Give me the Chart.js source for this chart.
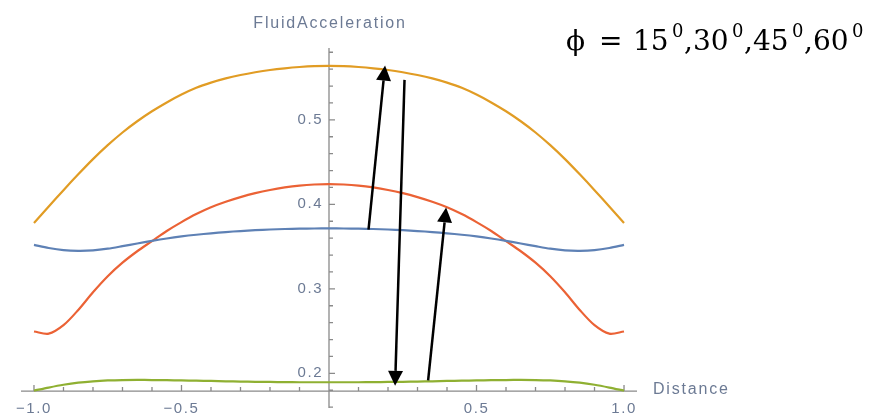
<!DOCTYPE html>
<html>
<head>
<meta charset="utf-8">
<script src="https://cdn.jsdelivr.net/npm/chart.js@4.4.1/dist/chart.umd.min.js"></script>
<style>
  html, body { margin: 0; padding: 0; background: #fff; }
</style>
</head>
<body>
<canvas id="chart" width="870" height="415"></canvas>
<script>
// distance values (x), step 0.05
const distance = [-1, -0.95, -0.9, -0.85, -0.8, -0.75, -0.7, -0.65, -0.6, -0.55, -0.5,
                  -0.45, -0.4, -0.35, -0.3, -0.25, -0.2, -0.15, -0.1, -0.05, 0,
                  0.05, 0.1, 0.15, 0.2, 0.25, 0.3, 0.35, 0.4, 0.45, 0.5,
                  0.55, 0.6, 0.65, 0.7, 0.75, 0.8, 0.85, 0.9, 0.95, 1];

// fluid acceleration, one array per curve
const accOrange = [0.378, 0.3975, 0.4168, 0.4355, 0.4535, 0.4700, 0.4850, 0.4983, 0.5101, 0.5206, 0.5299,
                   0.5379, 0.5440, 0.5490, 0.5530, 0.5563, 0.5590, 0.5610, 0.5625, 0.5635, 0.5638,
                   0.5635, 0.5625, 0.5610, 0.5590, 0.5563, 0.5530, 0.5490, 0.5440, 0.5379, 0.5299,
                   0.5206, 0.5101, 0.4983, 0.4850, 0.4700, 0.4535, 0.4355, 0.4168, 0.3975, 0.378];
const accRed    = [0.2495, 0.2470, 0.2570, 0.2750, 0.2960, 0.3150, 0.3310, 0.3445, 0.3565, 0.3685, 0.3790,
                   0.3885, 0.3965, 0.4030, 0.4085, 0.4132, 0.4170, 0.4200, 0.4222, 0.4235, 0.4240,
                   0.4235, 0.4222, 0.4200, 0.4170, 0.4132, 0.4085, 0.4030, 0.3965, 0.3885, 0.3790,
                   0.3685, 0.3565, 0.3445, 0.3310, 0.3150, 0.2960, 0.2750, 0.2570, 0.2470, 0.2495];
const accBlue   = [0.3520, 0.3483, 0.3458, 0.3450, 0.3455, 0.3475, 0.3505, 0.3537, 0.3568, 0.3596, 0.3620,
                   0.3640, 0.3657, 0.3672, 0.3684, 0.3694, 0.3702, 0.3708, 0.3712, 0.3714, 0.3715,
                   0.3714, 0.3712, 0.3708, 0.3702, 0.3694, 0.3684, 0.3672, 0.3657, 0.3640, 0.3620,
                   0.3596, 0.3568, 0.3537, 0.3505, 0.3475, 0.3455, 0.3450, 0.3458, 0.3483, 0.3520];
const accGreen  = [0.1795, 0.1832, 0.1865, 0.1890, 0.1906, 0.1916, 0.1921, 0.1922, 0.1921, 0.1919, 0.1916,
                   0.1913, 0.1910, 0.1906, 0.1903, 0.1900, 0.1898, 0.1896, 0.1895, 0.1895, 0.1895,
                   0.1895, 0.1895, 0.1896, 0.1898, 0.1900, 0.1903, 0.1906, 0.1910, 0.1913, 0.1916,
                   0.1919, 0.1921, 0.1922, 0.1921, 0.1916, 0.1906, 0.1890, 0.1865, 0.1832, 0.1795];

// tick labels
const xTickValues = [-1, -0.5, 0.5, 1];
const yTickValues = [0.2, 0.3, 0.4, 0.5];

// arrows in data units: [x0, y0, x1, y1], head at (x1, y1)
const arrowsData = [
  [0.134, 0.370, 0.190, 0.5643],
  [0.256, 0.5473, 0.224, 0.1852],
  [0.336, 0.1917, 0.397, 0.3964]
];

const X_AXIS_AT = 0.179;
const labelColor = "#6c7a94";
const axisColor = "#8a8a8a";
const sansFont = "'Liberation Sans', Arial, sans-serif";

function toPoints(ys) {
  return distance.map((x, i) => ({ x: x, y: ys[i] }));
}

function fmt(v) {
  return v.toFixed(1).replace("-", "\u2212");
}

// keep the axes from eating layout space
function noPad(s) {
  s.paddingTop = 0; s.paddingBottom = 0; s.paddingLeft = 0; s.paddingRight = 0;
}

// axes lines + inward ticks, Mathematica style
const axesPlugin = {
  id: "axesPlugin",
  beforeDraw(chart) {
    chart.ctx.letterSpacing = "1.6px";
  },
  beforeDatasetsDraw(chart) {
    const { ctx, chartArea } = chart;
    const xs = chart.scales.x, ys = chart.scales.y;
    const y0 = ys.getPixelForValue(X_AXIS_AT);
    const x0 = xs.getPixelForValue(0);
    ctx.save();
    ctx.strokeStyle = axisColor;
    ctx.lineWidth = 1.3;
    ctx.beginPath();
    ctx.moveTo(chartArea.left, y0);
    ctx.lineTo(chartArea.right, y0);
    ctx.moveTo(x0, chartArea.top);
    ctx.lineTo(x0, chartArea.bottom);
    // x ticks every 0.1
    for (let i = -10; i <= 10; i++) {
      const px = xs.getPixelForValue(i / 10);
      const len = i % 5 === 0 ? 6 : 4;
      ctx.moveTo(px, y0);
      ctx.lineTo(px, y0 - len);
    }
    // y ticks every 0.02
    for (let i = 8; i <= 29; i++) {
      const py = ys.getPixelForValue(i / 50);
      const len = i % 5 === 0 ? 6 : 4;
      ctx.moveTo(x0, py);
      ctx.lineTo(x0 + len, py);
    }
    ctx.stroke();
    ctx.restore();
  },
  afterDraw(chart) {
    const { ctx } = chart;
    const xs = chart.scales.x, ys = chart.scales.y;
    const x0 = xs.getPixelForValue(0);
    const y0 = ys.getPixelForValue(X_AXIS_AT);
    ctx.save();
    // axis titles
    ctx.letterSpacing = "1.8px";
    ctx.fillStyle = labelColor;
    ctx.font = "16px " + sansFont;
    ctx.textBaseline = "middle";
    ctx.textAlign = "center";
    ctx.fillText("FluidAcceleration", x0 + 1, 24);
    ctx.textAlign = "left";
    ctx.fillText("Distance", 653, y0 - 2);

    // arrows
    ctx.letterSpacing = "0px";
    ctx.strokeStyle = "#000";
    ctx.fillStyle = "#000";
    ctx.lineWidth = 2.5;
    arrowsData.forEach(a => {
      const ax = xs.getPixelForValue(a[0]), ay = ys.getPixelForValue(a[1]);
      const bx = xs.getPixelForValue(a[2]), by = ys.getPixelForValue(a[3]);
      const ang = Math.atan2(by - ay, bx - ax);
      const hl = 15, hw = 7.5;
      const cx = bx - hl * Math.cos(ang), cy = by - hl * Math.sin(ang);
      ctx.beginPath();
      ctx.moveTo(ax, ay);
      ctx.lineTo(cx, cy);
      ctx.stroke();
      ctx.beginPath();
      ctx.moveTo(bx, by);
      ctx.lineTo(cx + hw * Math.sin(ang), cy - hw * Math.cos(ang));
      ctx.lineTo(cx - hw * Math.sin(ang), cy + hw * Math.cos(ang));
      ctx.closePath();
      ctx.fill();
    });

    // formula text, top right
    const big = "28px 'DejaVu Serif', 'Liberation Serif', serif";
    const small = "18px 'DejaVu Serif', 'Liberation Serif', serif";
    const pieces = [
      ["\u03D5", 566, big], ["=", 599, big], ["15", 633, big], ["0", 672, small], [",", 684, big],
      ["30", 693, big], ["0", 732, small], [",", 744, big],
      ["45", 753, big], ["0", 792, small], [",", 804, big],
      ["60", 813, big], ["0", 852, small]
    ];
    ctx.fillStyle = "#000";
    ctx.textAlign = "left";
    ctx.textBaseline = "alphabetic";
    pieces.forEach(p => {
      ctx.font = p[2];
      ctx.fillText(p[0], p[1], p[2] === small ? 37 : 50);
    });
    ctx.restore();
  }
};

const ctx = document.getElementById("chart").getContext("2d");
const lineStyle = { borderWidth: 2.2, pointRadius: 0, tension: 0.3, fill: false };

new Chart(ctx, {
  type: "line",
  data: {
    datasets: [
      Object.assign({ label: "blue", data: toPoints(accBlue), borderColor: "#5E81B5" }, lineStyle),
      Object.assign({ label: "orange", data: toPoints(accOrange), borderColor: "#E19C24" }, lineStyle),
      Object.assign({ label: "green", data: toPoints(accGreen), borderColor: "#8FB032" }, lineStyle),
      Object.assign({ label: "red", data: toPoints(accRed), borderColor: "#EB6235" }, lineStyle)
    ]
  },
  options: {
    responsive: false,
    animation: false,
    layout: { padding: { left: 21, right: 233, top: 48, bottom: 7 } },
    plugins: { legend: { display: false }, tooltip: { enabled: false } },
    scales: {
      x: {
        type: "linear",
        min: -1.044,
        max: 1.044,
        position: { y: X_AXIS_AT },
        grid: { display: false, drawTicks: false },
        border: { display: false },
        afterFit: noPad,
        afterBuildTicks: s => { s.ticks = xTickValues.map(v => ({ value: v })); },
        ticks: {
          color: labelColor,
          padding: 9,
          maxRotation: 0,
          autoSkip: false,
          font: { size: 15, family: sansFont },
          callback: v => fmt(v)
        }
      },
      y: {
        type: "linear",
        min: 0.159,
        max: 0.585,
        position: { x: 0 },
        grid: { display: false, drawTicks: false },
        border: { display: false },
        afterFit: noPad,
        afterBuildTicks: s => { s.ticks = yTickValues.map(v => ({ value: v })); },
        ticks: {
          color: labelColor,
          autoSkip: false,
          font: { size: 15, family: sansFont },
          callback: v => fmt(v) + " "
        }
      }
    }
  },
  plugins: [axesPlugin]
});
</script>
</body>
</html>
